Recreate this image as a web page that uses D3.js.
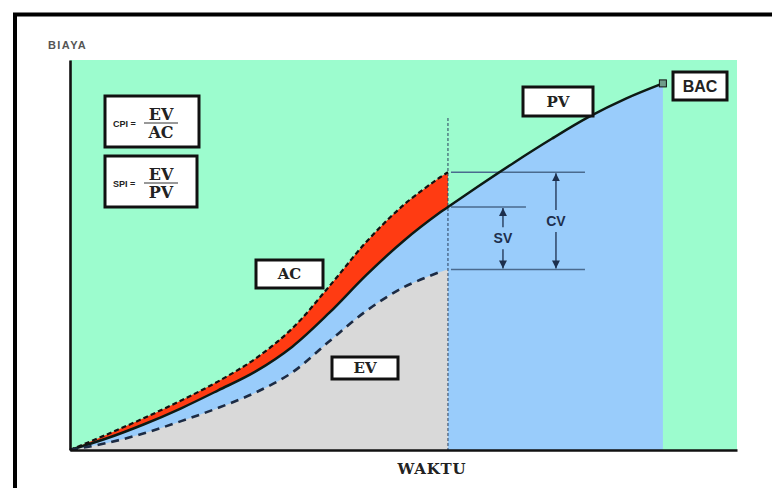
<!DOCTYPE html>
<html>
<head>
<meta charset="utf-8">
<script src="https://cdn.jsdelivr.net/npm/d3@7"></script>
<style>
  body { margin: 0; background: #fff; }
  svg { display: block; }
</style>
</head>
<body>
<svg id="chart" width="772" height="488"></svg>
<script>
// Planned value (PV) curve, in weeks and % of budget
const pvTime  = [0, 1, 2, 3, 4, 5, 6, 7, 8, 9, 10, 10.2, 11, 12, 13, 14, 15, 16];
const pvValue = [0, 3.0, 6.6, 10.7, 15.3, 20.1, 26.5, 35.2, 44.9, 53.6, 61.0, 62.3, 67.5, 73.8, 79.8, 85.4, 90.1, 94.0];

// Actual cost (AC) and earned value (EV) up to the status date
const actualTime = [0, 1, 2, 3, 4, 5, 6, 7, 8, 9, 10, 10.2];
const acValue    = [0, 4.0, 8.2, 12.7, 17.6, 23.4, 31.2, 42.0, 53.4, 62.8, 70.0, 71.2];
const evValue    = [0, 1.8, 4.3, 7.4, 10.8, 14.7, 19.9, 27.9, 35.7, 41.7, 45.7, 46.3];

const statusDate = 10.2;   // data date (vertical dashed line)
const bacTime = 16;        // end of plan, where PV reaches BAC
const timeMax = 18;
const costMax = 100;

const svg = d3.select("#chart");

const x = d3.scaleLinear().domain([0, timeMax]).range([70, 737]);
const y = d3.scaleLinear().domain([0, costMax]).range([450, 60]);

const pvRows = pvTime.map((t, i) => ({ t, v: pvValue[i] }));
const actRows = actualTime.map((t, i) => ({
  t, ac: acValue[i], ev: evValue[i], pv: pvValue[pvTime.indexOf(t)]
}));

const curve = d3.curveCatmullRom.alpha(0.5);

// outer frame
svg.append("rect")
  .attr("x", 15).attr("y", 14.5).attr("width", 800).attr("height", 520)
  .attr("fill", "none").attr("stroke", "#000").attr("stroke-width", 4);

// plot background
svg.append("rect")
  .attr("x", x(0)).attr("y", y(costMax))
  .attr("width", x(timeMax) - x(0)).attr("height", y(0) - y(costMax))
  .attr("fill", "#9cfcce");

// area under PV
svg.append("path").datum(pvRows)
  .attr("fill", "#99ccfb")
  .attr("d", d3.area().curve(curve).x(d => x(d.t)).y0(y(0)).y1(d => y(d.v)));

// cost overrun band between PV and AC
svg.append("path").datum(actRows)
  .attr("fill", "#ff3b12")
  .attr("d", d3.area().curve(curve).x(d => x(d.t)).y0(d => y(d.pv)).y1(d => y(d.ac)));

// area under EV
svg.append("path").datum(actRows)
  .attr("fill", "#d9d9d9")
  .attr("d", d3.area().curve(curve).x(d => x(d.t)).y0(y(0)).y1(d => y(d.ev)));

// status date line
svg.append("line")
  .attr("x1", x(statusDate)).attr("x2", x(statusDate))
  .attr("y1", 118).attr("y2", y(0))
  .attr("stroke", "#2b3f5c").attr("stroke-width", 1)
  .attr("stroke-dasharray", "3,2");

// variance reference lines
const acNow = acValue[acValue.length - 1];
const pvNow = pvValue[pvTime.indexOf(statusDate)];
const evNow = evValue[evValue.length - 1];
const x0 = x(statusDate) + 3;
const refLines = [
  { v: acNow, len: 134 },
  { v: pvNow, len: 75 },
  { v: evNow, len: 134 }
];
svg.selectAll("line.ref").data(refLines).enter().append("line")
  .attr("class", "ref")
  .attr("x1", x0).attr("x2", d => x0 + d.len)
  .attr("y1", d => y(d.v)).attr("y2", d => y(d.v))
  .attr("stroke", "#4a6a8e").attr("stroke-width", 1.6);

// arrow markers
const defs = svg.append("defs");
defs.append("marker")
  .attr("id", "arrow").attr("viewBox", "0 0 10 10")
  .attr("refX", 10).attr("refY", 5)
  .attr("markerWidth", 8).attr("markerHeight", 8)
  .attr("markerUnits", "userSpaceOnUse")
  .attr("orient", "auto")
  .append("path").attr("d", "M0,0 L10,5 L0,10 Z").attr("fill", "#1d2f4d");

function varianceArrow(cx, top, bottom, label) {
  const mid = (y(top) + y(bottom)) / 2;
  svg.append("line")
    .attr("x1", cx).attr("x2", cx)
    .attr("y1", mid - 11).attr("y2", y(top) + 1)
    .attr("stroke", "#1d2f4d").attr("stroke-width", 1.3)
    .attr("marker-end", "url(#arrow)");
  svg.append("line")
    .attr("x1", cx).attr("x2", cx)
    .attr("y1", mid + 11).attr("y2", y(bottom) - 1)
    .attr("stroke", "#1d2f4d").attr("stroke-width", 1.3)
    .attr("marker-end", "url(#arrow)");
  svg.append("text")
    .attr("x", cx).attr("y", mid + 5)
    .attr("text-anchor", "middle")
    .attr("font-family", "Liberation Sans, Arial, sans-serif")
    .attr("font-weight", "bold").attr("font-size", 14)
    .attr("fill", "#1d2f4d")
    .text(label);
}
varianceArrow(x0 + 52, pvNow, evNow, "SV");
varianceArrow(x0 + 105, acNow, evNow, "CV");

// PV line
svg.append("path").datum(pvRows)
  .attr("fill", "none").attr("stroke", "#0d1a14").attr("stroke-width", 2.5)
  .attr("d", d3.line().curve(curve).x(d => x(d.t)).y(d => y(d.v)));

// AC line
svg.append("path").datum(actRows)
  .attr("fill", "none").attr("stroke", "#111").attr("stroke-width", 2.2)
  .attr("stroke-dasharray", "5,3")
  .attr("d", d3.line().curve(curve).x(d => x(d.t)).y(d => y(d.ac)));

// EV line
svg.append("path").datum(actRows.filter(d => d.t <= 10))
  .attr("fill", "none").attr("stroke", "#1c2b44").attr("stroke-width", 2.6)
  .attr("stroke-dasharray", "8,6")
  .attr("d", d3.line().curve(curve).x(d => x(d.t)).y(d => y(d.ev)));

// BAC marker
svg.append("rect")
  .attr("x", x(bacTime) - 3.5).attr("y", y(pvValue[pvValue.length - 1]) - 3.5)
  .attr("width", 7).attr("height", 7)
  .attr("fill", "#6f9c8a").attr("stroke", "#111").attr("stroke-width", 1);

// axes
const xAxis = svg.append("g")
  .attr("transform", `translate(0,${y(0)})`)
  .call(d3.axisBottom(x).tickValues([]).tickSizeOuter(0));
const yAxis = svg.append("g")
  .attr("transform", `translate(${x(0)},0)`)
  .call(d3.axisLeft(y).tickValues([]).tickSizeOuter(0));
[xAxis, yAxis].forEach(g => g.select(".domain")
  .attr("stroke", "#111").attr("stroke-width", 2.6));

// axis titles
svg.append("text")
  .attr("x", 48).attr("y", 49)
  .attr("font-family", "Liberation Sans, Arial, sans-serif")
  .attr("font-weight", "bold").attr("font-size", 11)
  .attr("letter-spacing", 1.4)
  .attr("fill", "#555")
  .text("BIAYA");
svg.append("text")
  .attr("x", 432).attr("y", 474)
  .attr("text-anchor", "middle")
  .attr("font-family", "DejaVu Serif, serif")
  .attr("font-weight", "bold").attr("font-size", 15)
  .attr("letter-spacing", 0.8)
  .attr("fill", "#222")
  .text("WAKTU");

// label boxes
function box(bx, by, w, h) {
  svg.append("rect")
    .attr("x", bx).attr("y", by).attr("width", w).attr("height", h)
    .attr("fill", "#fff").attr("stroke", "#111").attr("stroke-width", 3);
}
function boxLabel(bx, by, w, h, label, family, size) {
  box(bx, by, w, h);
  svg.append("text")
    .attr("x", bx + w / 2).attr("y", by + h / 2)
    .attr("dy", "0.36em")
    .attr("text-anchor", "middle")
    .attr("font-family", family)
    .attr("font-weight", "bold").attr("font-size", size)
    .attr("fill", "#222")
    .text(label);
}
const serif = "DejaVu Serif, serif";
const sans = "Liberation Sans, Arial, sans-serif";
boxLabel(256, 260, 67, 28, "AC", serif, 15);
boxLabel(332, 357, 66, 22, "EV", serif, 15);
boxLabel(523, 87, 70, 29, "PV", serif, 15);
boxLabel(673, 72, 54, 28, "BAC", sans, 16);

// index formulas
const formulas = [
  { name: "CPI", num: "EV", den: "AC", bx: 105, by: 96, w: 94 },
  { name: "SPI", num: "EV", den: "PV", bx: 105, by: 156, w: 92 }
];
formulas.forEach(f => {
  box(f.bx, f.by, f.w, 51);
  const midY = f.by + 28;
  svg.append("text")
    .attr("x", f.bx + 8).attr("y", midY + 3)
    .attr("font-family", sans).attr("font-weight", "bold").attr("font-size", 9)
    .attr("fill", "#222")
    .text(f.name + " =");
  const fx = f.bx + 56;
  svg.append("text")
    .attr("x", fx).attr("y", midY - 4)
    .attr("text-anchor", "middle")
    .attr("font-family", serif).attr("font-weight", "bold").attr("font-size", 16)
    .attr("fill", "#222")
    .text(f.num);
  svg.append("line")
    .attr("x1", fx - 17).attr("x2", fx + 17)
    .attr("y1", midY - 1).attr("y2", midY - 1)
    .attr("stroke", "#333").attr("stroke-width", 1);
  svg.append("text")
    .attr("x", fx).attr("y", midY + 14)
    .attr("text-anchor", "middle")
    .attr("font-family", serif).attr("font-weight", "bold").attr("font-size", 16)
    .attr("fill", "#222")
    .text(f.den);
});
</script>
</body>
</html>
